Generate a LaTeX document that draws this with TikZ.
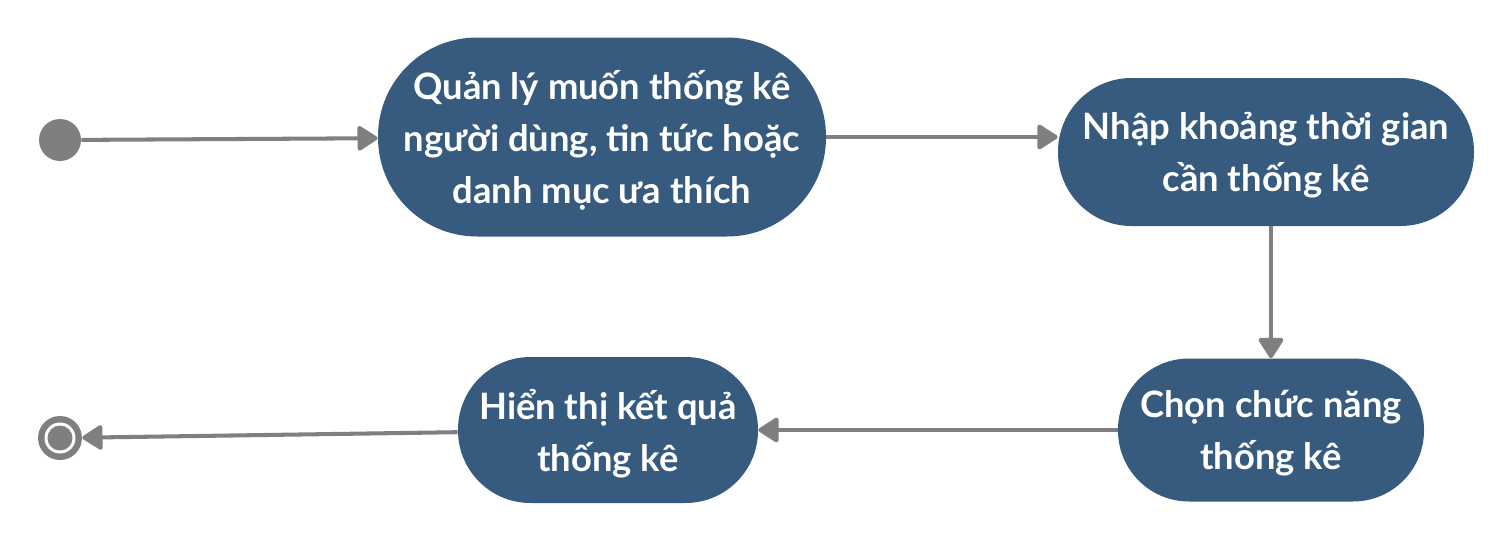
\documentclass[tikz,border=0pt]{standalone}
\usepackage{fontspec}
\setmainfont{Lato}
\usetikzlibrary{arrows.meta}
\definecolor{actblue}{HTML}{365B7E}
\definecolor{flowgray}{HTML}{7F7F7F}
\tikzset{
activity/.style={
       rectangle,
       rounded corners=#1,
       fill=actblue,
       text=white,
       align=center,
       inner sep=0pt,
       text depth=-2pt,
       font=\fontsize{20.7}{29.5}\selectfont\bfseries,
       },
activity/.default=1.4cm,
flow/.style={
       draw=flowgray,
       line width=2.3pt,
       sharp corners,
       -{Triangle[length=0.44cm, width=0.54cm, round]},
       },
}
\begin{document}
\begin{tikzpicture}
      \useasboundingbox (0,0) rectangle (30.18,-10.88);
      % start and end
      \node [circle, fill=flowgray, minimum size=0.84cm, inner sep=0pt] (start) at (1.2,-2.8) {};
      \node [circle, fill=flowgray, minimum size=0.88cm, inner sep=0pt] (stop) at (1.2,-8.76) {};
      \fill [white] (stop) circle (0.31);
      \fill [flowgray] (stop) circle (0.25);

      % activities
      \node [activity=1.98cm, minimum width=8.96cm, minimum height=3.98cm] (want) at (12.04,-2.74) {
                Quản lý muốn thống kê\\
                người dùng, tin tức hoặc\\
                danh mục ưa thích
            };
      \node [activity=1.47cm, minimum width=8.32cm, minimum height=2.96cm] (period) at (25.32,-3.04) {
                Nhập khoảng thời gian\\
                cần thống kê
            };
      \node [activity=1.42cm, minimum width=6.12cm, minimum height=2.86cm] (choose) at (25.42,-8.6) {
                Chọn chức năng\\
                thống kê
            };
      \node [activity=1.45cm, minimum width=6.0cm, minimum height=2.92cm] (result) at (12.16,-8.6) {
                Hiển thị kết quả\\
                thống kê
            };

      % Draw arrows between activities
      \draw [flow] (start) -- (want);
      \draw [flow] (want.east) -- (want.east -| period.west);
      \draw [flow] (period.south -| choose.north) -- (choose.north);
      \foreach \a/\b in {choose/result, result/stop} {
                \draw [flow] (\a) -- (\b);
            }
    \end{tikzpicture}
\end{document}
